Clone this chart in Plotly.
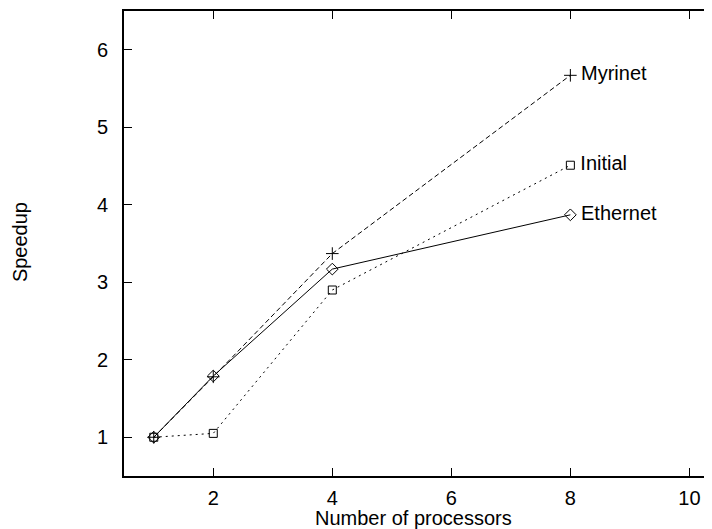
import plotly.graph_objects as go

procs = [1, 2, 4, 8]
myrinet = [1.0, 1.78, 3.37, 5.67]
initial = [1.0, 1.05, 2.90, 4.51]
ethernet = [1.0, 1.79, 3.17, 3.87]
names = ["Myrinet", "Initial", "Ethernet"]
x_ticks = [2, 4, 6, 8, 10]
y_ticks = [1, 2, 3, 4, 5, 6]

FONT = "Liberation Sans, Arial, Helvetica, sans-serif"

fig = go.Figure()
series = [
    (myrinet, names[0], "5px,3px", "cross-thin-open", 9),
    (initial, names[1], "2px,4px", "square-open", 8),
    (ethernet, names[2], "solid", "diamond-open", 9),
]
for vals, name, dash, sym, size in series:
    txt = [""] * (len(procs) - 1) + ["\u2009" + name]
    fig.add_trace(go.Scatter(
        x=procs, y=vals, name=name, mode="lines+markers+text",
        text=txt, textposition="middle right",
        textfont=dict(family=FONT, size=20, color="black"),
        line=dict(color="black", width=1, dash=dash),
        marker=dict(symbol=sym, size=size, color="black",
                    line=dict(color="black", width=1)),
        cliponaxis=False,
    ))

fig.update_layout(
    width=704, height=521,
    margin=dict(l=116, r=0, t=3, b=53),
    paper_bgcolor="white", plot_bgcolor="white",
    showlegend=False,
    font=dict(family=FONT, size=20, color="black"),
    xaxis=dict(range=[0.5, 10.38], tickvals=x_ticks, ticks="inside", ticklen=8,
               tickcolor="black", showline=True, linecolor="black", linewidth=2,
               mirror="ticks", showgrid=False, zeroline=False,
               ticklabelstandoff=3, tickfont=dict(size=20)),
    yaxis=dict(range=[0.5, 6.5], tickvals=y_ticks, ticks="inside", ticklen=8,
               tickcolor="black", showline=True, linecolor="black", linewidth=2,
               showgrid=False, zeroline=False, ticklabelstandoff=10,
               tickfont=dict(size=20)),
    yaxis2=dict(range=[0.5, 6.5], tickvals=y_ticks, ticks="inside", ticklen=8,
                tickcolor="black", showline=False, overlaying="y", side="right",
                showticklabels=False, showgrid=False, zeroline=False),
    annotations=[
        dict(text="Speedup", xref="paper", yref="paper", x=(20 - 124) / 588, y=0.503,
             xanchor="center", yanchor="middle",
             textangle=-90, showarrow=False, font=dict(family=FONT, size=20)),
        dict(text="Number of processors", xref="paper", yref="paper", x=0.493,
             y=-0.091, xanchor="center", yanchor="middle",
             showarrow=False, font=dict(family=FONT, size=20)),
    ],
)
fig.add_trace(go.Scatter(x=[None], y=[None], yaxis="y2", showlegend=False, hoverinfo="skip"))

fig.write_html("out.html")
